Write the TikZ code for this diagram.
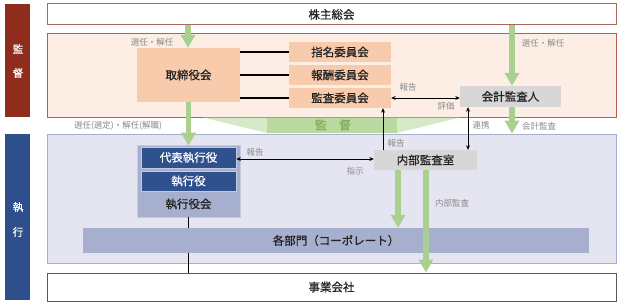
\documentclass[tikz,border=0pt]{standalone}
\usepackage{fontspec}
\setmainfont{Noto Sans CJK JP}
\newfontfamily\medfont{Noto Sans CJK JP}[FakeBold=0.7]
\usetikzlibrary{arrows.meta,calc}
\definecolor{supred}{HTML}{8E2D1E}
\definecolor{exeblue}{HTML}{2E4F8C}
\definecolor{supfill}{HTML}{FCEEE5}
\definecolor{supline}{HTML}{B5604C}
\definecolor{exefill}{HTML}{E5E5F1}
\definecolor{exeline}{HTML}{A7AFD0}
\definecolor{peachc}{HTML}{F8CBAD}
\definecolor{grayc}{HTML}{D7D7D7}
\definecolor{navyc}{HTML}{2F528F}
\definecolor{lavc}{HTML}{A6B0CE}
\definecolor{lavline}{HTML}{C3CAE0}
\definecolor{greenc}{HTML}{A9D08E}
\definecolor{wingc}{HTML}{D7EAC7}
\definecolor{wingmid}{HTML}{B9D9A0}
\definecolor{wingtext}{HTML}{7EAF5C}
\definecolor{txt}{HTML}{222222}
\definecolor{lbl}{HTML}{8A8A8A}
\definecolor{subline}{HTML}{5A5A5A}
\definecolor{agmline}{HTML}{A86A5C}
\begin{document}
\begin{tikzpicture}[x=1pt,y=-1pt,
  mtext/.style={font=\medfont\fontsize{11.5}{13}\selectfont, text=txt},
  ltext/.style={font=\fontsize{8.5}{10}\selectfont, text=lbl, inner sep=0pt},
  sidebar/.style={rectangle, inner sep=0pt, minimum width=25pt},
  sidetext/.style={font=\medfont\fontsize{10.5}{12}\selectfont, text=white, inner sep=0pt},
  peach/.style={rectangle, fill=peachc, inner sep=0pt, mtext},
  grayb/.style={rectangle, fill=grayc, inner sep=0pt, mtext},
  navy/.style={rectangle, fill=navyc, draw=lavline, line width=0.6pt, inner sep=0pt, mtext, text=white},
  garrow/.style={draw=greenc, line width=5.5pt, -{Triangle[width=14pt,length=13pt]}},
  barrow/.style={draw=black, line width=0.9pt, -{Stealth[length=4.5pt,width=4pt]}},
  bboth/.style={draw=black, line width=0.9pt, {Stealth[length=4.5pt,width=4pt]}-{Stealth[length=4.5pt,width=4pt]}},
  bline/.style={draw=black, line width=1.2pt}
]
\useasboundingbox[fill=white] (0,0) rectangle (620,305);

% side bars
\node[sidebar, fill=supred, minimum height=113pt] (supbar) at (17.5,60.5) {};
\node[sidebar, fill=exeblue, minimum height=166pt] (exebar) at (17.5,217) {};
\node[sidetext] (s1) at (18,49) {監};
\node[sidetext] (s2) at (18,73) {督};
\node[sidetext] (e1) at (18,207) {執};
\node[sidetext] (e2) at (18,232) {行};

% big areas
\node[rectangle, draw=agmline, line width=1pt, fill=white, minimum width=569pt, minimum height=21pt, inner sep=0pt, mtext] (agm) at (331.5,14.5) {株主総会};
\node[rectangle, draw=supline, line width=1pt, fill=supfill, minimum width=569pt, minimum height=83pt, inner sep=0pt] (suparea) at (331.5,75.5) {};
\node[rectangle, draw=exeline, line width=1pt, fill=exefill, minimum width=569pt, minimum height=129pt, inner sep=0pt] (exearea) at (331.5,198.5) {};
\node[rectangle, draw=subline, line width=1pt, fill=white, minimum width=569pt, minimum height=28pt, inner sep=0pt, mtext] (sub) at (331.5,287) {事業会社};

% supervision wedge
\fill[wingc] (203,117.5) -- (460,117.5) -- (397,133) -- (267,133) -- cycle;
\fill[wingmid] (267,117.5) rectangle (397,133);
\node[font=\medfont\fontsize{12}{13}\selectfont, text=wingtext, inner sep=0pt] (kantoku) at (333,125) {監\hspace{1em}督};

% supervision boxes
\node[peach, minimum width=103pt, minimum height=54pt] (board) at (188.5,75) {取締役会};
\node[peach, minimum width=102pt, minimum height=20pt] (nom) at (340,52) {指名委員会};
\node[peach, minimum width=102pt, minimum height=20pt] (comp) at (340,75) {報酬委員会};
\node[peach, minimum width=102pt, minimum height=20pt] (audc) at (340,98) {監査委員会};
\node[grayb, minimum width=101pt, minimum height=21pt] (ext) at (510.5,96.5) {会計監査人};

% execution boxes
\node[rectangle, fill=lavc, draw=lavline, line width=0.6pt, minimum width=103pt, minimum height=72pt, inner sep=0pt] (exb) at (188.5,181) {};
\node[navy, minimum width=95pt, minimum height=21pt] (ceo) at (188.5,157.5) {代表執行役};
\node[navy, minimum width=95pt, minimum height=20pt] (off) at (188.5,181) {執行役};
\node[mtext, inner sep=0pt] (exbt) at (188.5,204) {執行役会};
\node[grayb, minimum width=103pt, minimum height=20pt] (ia) at (425.5,160) {内部監査室};
\node[rectangle, fill=lavc, minimum width=506pt, minimum height=25pt, inner sep=0pt, mtext] (dept) at (336,240.5) {各部門（コーポレート）};

% committee lines
\draw[bline] (board.east |- nom) -- (nom.west);
\draw[bline] (board.east |- comp) -- (comp.west);
\draw[bline] (board.east |- audc) -- (audc.west);

% execution lines
\draw[bline] (exb.south) -- (exb.south |- dept.north);
\draw[bline] (exb.south |- dept.south) -- (exb.south |- sub.north);

% green arrows
\coordinate (gx1) at (512,0);
\coordinate (gx2) at (398,0);
\coordinate (gx3) at (426,0);
\draw[garrow] (agm.south) ++(-143.5,0) coordinate (ga) -- (ga |- board.north);
\draw[garrow] (agm.south -| gx1) -- (ext.north -| gx1);
\draw[garrow] (board.south) -- ($(ceo.north)+(0,-1)$);
\draw[garrow] (ext.south -| gx1) -- (exearea.north -| gx1);
\draw[garrow] (ia.south -| gx2) -- (dept.north -| gx2);
\draw[garrow] (ia.south -| gx3) -- (sub.north -| gx3);

% black arrows
\coordinate (bx1) at (383,0);
\coordinate (bx2) at (468,0);
\draw[bboth] (audc.east) -- (audc.east -| ext.west);
\draw[barrow] (ia.north -| bx1) -- (audc.south -| bx1);
\draw[bboth] (ext.south -| bx2) -- (ia.north -| bx2);
\coordinate (cy) at (0,159);
\draw[bboth] (ceo.east |- cy) -- (ia.west |- cy);

% labels
\node[ltext] (l1) at (152,42) {選任・解任};
\node[ltext] (l2) at (543,43) {選任・解任};
\node[ltext] (l3) at (118,126) {選任(選定)・解任(解職)};
\node[ltext] (l4) at (408,87) {報告};
\node[ltext] (l5) at (446,106) {評価};
\node[ltext] (l6) at (481,125) {連携};
\node[ltext] (l7) at (539,126) {会計監査};
\node[ltext] (l8) at (396,143) {報告};
\node[ltext] (l9) at (255,152) {報告};
\node[ltext] (l10) at (355,171) {指示};
\node[ltext] (l11) at (452,203) {内部監査};
\end{tikzpicture}
\end{document}
